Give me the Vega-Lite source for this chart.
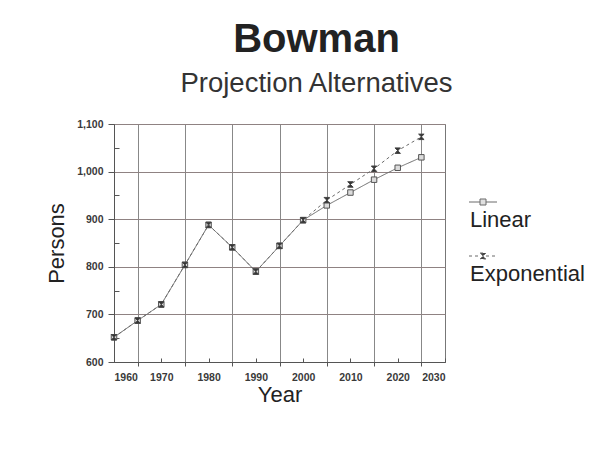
{
  "$schema": "https://vega.github.io/schema/vega-lite/v6.json",
  "width": 331,
  "height": 238,
  "autosize": "none",
  "padding": {"left": 114, "top": 124, "right": 169, "bottom": 101},
  "background": "white",
  "title": {
    "text": "Bowman",
    "subtitle": "Projection Alternatives",
    "font": "Liberation Sans",
    "fontSize": 40,
    "fontWeight": "bold",
    "color": "#222",
    "subtitleFont": "Liberation Sans",
    "subtitleFontSize": 27.5,
    "subtitleColor": "#333",
    "subtitlePadding": 10,
    "anchor": "middle",
    "frame": "group",
    "dx": 37,
    "offset": 22
  },
  "data": {
    "values": [
      {"year": 1960, "persons": 652, "series": "Linear"},
      {"year": 1965, "persons": 687, "series": "Linear"},
      {"year": 1970, "persons": 721, "series": "Linear"},
      {"year": 1975, "persons": 804, "series": "Linear"},
      {"year": 1980, "persons": 888, "series": "Linear"},
      {"year": 1985, "persons": 841, "series": "Linear"},
      {"year": 1990, "persons": 790, "series": "Linear"},
      {"year": 1995, "persons": 844, "series": "Linear"},
      {"year": 2000, "persons": 898, "series": "Linear"},
      {"year": 2005, "persons": 929, "series": "Linear"},
      {"year": 2010, "persons": 956, "series": "Linear"},
      {"year": 2015, "persons": 983, "series": "Linear"},
      {"year": 2020, "persons": 1008, "series": "Linear"},
      {"year": 2025, "persons": 1030, "series": "Linear"},
      {"year": 1960, "persons": 652, "series": "Exponential"},
      {"year": 1965, "persons": 687, "series": "Exponential"},
      {"year": 1970, "persons": 721, "series": "Exponential"},
      {"year": 1975, "persons": 804, "series": "Exponential"},
      {"year": 1980, "persons": 888, "series": "Exponential"},
      {"year": 1985, "persons": 841, "series": "Exponential"},
      {"year": 1990, "persons": 790, "series": "Exponential"},
      {"year": 1995, "persons": 844, "series": "Exponential"},
      {"year": 2000, "persons": 898, "series": "Exponential"},
      {"year": 2005, "persons": 940, "series": "Exponential"},
      {"year": 2010, "persons": 973, "series": "Exponential"},
      {"year": 2015, "persons": 1006, "series": "Exponential"},
      {"year": 2020, "persons": 1044, "series": "Exponential"},
      {"year": 2025, "persons": 1073, "series": "Exponential"}
    ]
  },
  "encoding": {
    "x": {
      "field": "year",
      "type": "quantitative",
      "scale": {"domain": [1960, 2030], "nice": false, "zero": false},
      "axis": {
        "title": "Year",
        "values": [1960, 1965, 1970, 1975, 1980, 1985, 1990, 1995, 2000, 2005, 2010, 2015, 2020, 2025, 2030],
        "labelExpr": "datum.value % 10 === 0 ? format(datum.value, 'd') : ''",
        "grid": true,
        "gridOpacity": {"condition": {"test": "datum.value % 10 === 5", "value": 1}, "value": 0},
        "tickSize": {"condition": {"test": "datum.value % 10 === 0", "value": -4}, "value": 4},
        "labelPadding": 14,
        "titlePadding": 2
      }
    },
    "y": {
      "field": "persons",
      "type": "quantitative",
      "scale": {"domain": [600, 1100], "nice": false, "zero": false},
      "axis": {
        "title": "Persons",
        "values": [600, 650, 700, 750, 800, 850, 900, 950, 1000, 1050, 1100],
        "labelExpr": "datum.value % 100 === 0 ? format(datum.value, ',') : ''",
        "grid": true,
        "gridColor": "#8f8282",
        "gridOpacity": {"condition": {"test": "datum.value % 100 === 0", "value": 1}, "value": 0},
        "tickSize": {"condition": {"test": "datum.value % 100 === 50", "value": -5}, "value": 6},
        "labelPadding": 5,
        "titlePadding": 8
      }
    }
  },
  "layer": [
    {
      "mark": {"type": "line", "stroke": "#6a6a6a", "strokeWidth": 1},
      "encoding": {
        "detail": {"field": "series"},
        "strokeDash": {
          "field": "series",
          "type": "nominal",
          "title": null,
          "scale": {"domain": ["Linear", "Exponential"], "range": [[1, 0], [3, 3]]}
        }
      }
    },
    {
      "transform": [{"filter": "datum.series === 'Linear'"}],
      "mark": {"type": "point", "filled": true, "size": 30, "shape": "M-1,-1H1V1H-1Z", "fill": "#dcdcdc", "stroke": "#555", "strokeWidth": 1, "opacity": 1}
    },
    {
      "transform": [{"filter": "datum.series === 'Exponential'"}],
      "mark": {"type": "point", "filled": true, "size": 30, "shape": "M-1,-1H1L-1,1H1Z", "fill": "#333", "stroke": "#444", "strokeWidth": 1, "opacity": 1}
    },
    {
      "mark": {"type": "point", "filled": true, "size": 0, "stroke": "#666", "strokeWidth": 1},
      "encoding": {
        "shape": {
          "field": "series",
          "type": "nominal",
          "title": null,
          "scale": {"domain": ["Linear", "Exponential"], "range": ["M-1.4,-0.8H-0.3M0.3,-0.8H1.4M-0.3,-1.1H0.3V-0.5H-0.3Z", "M-1.4,-0.8H-0.3M0.3,-0.8H1.4M-0.3,-1.1H0.3L-0.3,-0.5H0.3Z"]},
          "legend": {
            "orient": "none",
            "legendX": 358,
            "legendY": 75,
            "symbolSize": 400,
            "symbolStrokeWidth": 1,
            "symbolStrokeColor": "#666",
            "symbolOpacity": 1,
            "labelFont": "Liberation Sans",
            "labelFontSize": 22,
            "labelColor": "#222",
            "labelBaseline": "top",
            "labelOffset": -24,
            "rowPadding": 20
          }
        },
        "fill": {
          "field": "series",
          "type": "nominal",
          "title": null,
          "scale": {"domain": ["Linear", "Exponential"], "range": ["#e0e0e0", "#444"]}
        }
      }
    }
  ],
  "config": {
    "view": {"stroke": "#777", "strokeWidth": 1},
    "axis": {
      "domainColor": "#555",
      "tickColor": "#555",
      "gridColor": "#888",
      "gridWidth": 1,
      "labelFont": "Liberation Sans",
      "labelFontSize": 10.5,
      "labelFontWeight": "bold",
      "labelColor": "#3a3a3a",
      "titleFont": "Liberation Sans",
      "titleFontSize": 22,
      "titleFontWeight": "normal",
      "titleColor": "#222"
    }
  }
}
